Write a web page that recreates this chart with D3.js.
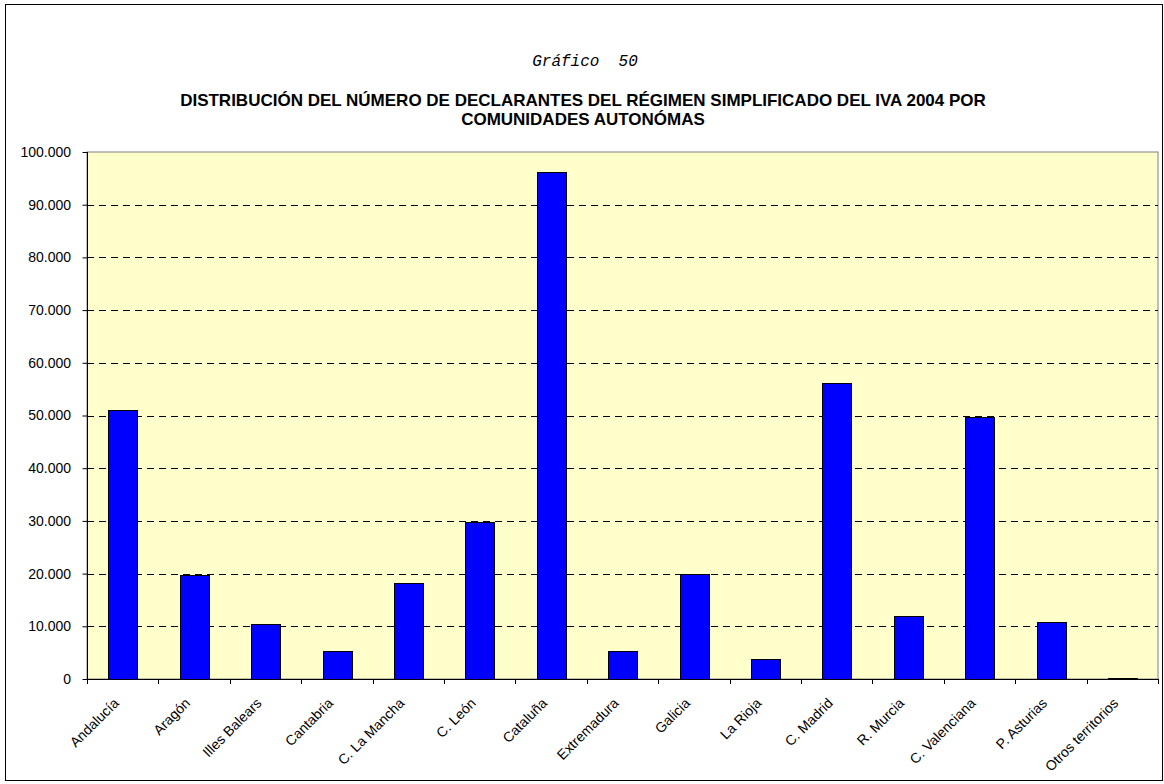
<!DOCTYPE html>
<html><head><meta charset="utf-8">
<script src="https://cdn.jsdelivr.net/npm/d3@7"></script>
<style>body{margin:0;background:#fff}svg{display:block}</style>
</head><body>
<svg id="c" width="1164" height="784"></svg>
<script>
const categories = ["Andalucía","Aragón","Illes Balears","Cantabria","C. La Mancha","C. León","Cataluña","Extremadura","Galicia","La Rioja","C. Madrid","R. Murcia","C. Valenciana","P. Asturias","Otros territorios"];
const values = [51000,19700,10400,5400,18200,29800,96200,5300,19900,3850,56200,11900,49800,10900,150];
const yTicks = [0,10000,20000,30000,40000,50000,60000,70000,80000,90000,100000];
const subtitle = "Gráfico  50";
const titleLines = ["DISTRIBUCIÓN DEL NÚMERO DE DECLARANTES DEL RÉGIMEN SIMPLIFICADO DEL IVA 2004 POR","COMUNIDADES AUTONÓMAS"];

const svg = d3.select("#c");
svg.append("rect").attr("x",5.5).attr("y",4.5).attr("width",1157).attr("height",776).attr("fill","#fff").attr("stroke","#000");

const L=87, R=1158, T=152, B=679;
const x = d3.scaleBand().domain(categories).range([L,R]).paddingInner(0.6).paddingOuter(0.3);
const xb = d3.scaleBand().domain(categories).range([L,R]);
const y = d3.scaleLinear().domain([0,100000]).range([B,T]);
const sans = "'Liberation Sans',Arial,sans-serif";

svg.append("text").attr("x",585).attr("y",66).attr("text-anchor","middle")
  .style("font-family","'Liberation Mono','DejaVu Sans Mono',monospace").style("font-style","italic").style("font-size","16px")
  .attr("xml:space","preserve").text(subtitle);
titleLines.forEach((t,i)=>svg.append("text").attr("x",583).attr("y",106+i*19).attr("text-anchor","middle")
  .style("font-family",sans).style("font-weight","bold").style("font-size","17px").text(t));

svg.append("rect").attr("x",L).attr("y",T).attr("width",R-L).attr("height",B-T).attr("fill","#FFFFCC").attr("stroke","#808080");

svg.append("g").selectAll("line").data(yTicks.filter(d=>d>0&&d<100000)).join("line")
  .attr("x1",L).attr("x2",R).attr("y1",d=>Math.round(y(d))+0.5).attr("y2",d=>Math.round(y(d))+0.5)
  .attr("stroke","#000").attr("stroke-dasharray","7,5");

svg.append("g").selectAll("rect").data(values).join("rect")
  .attr("x",(d,i)=>Math.round(x(categories[i]))+0.5).attr("width",Math.round(x.bandwidth()))
  .attr("y",d=>Math.round(y(d))+0.5).attr("height",d=>Math.max(0,Math.round(B-y(d))))
  .attr("fill","#0000FF").attr("stroke","#000").attr("stroke-width",1);

const yAxis = svg.append("g").attr("transform",`translate(${L+0.5},0)`)
  .call(d3.axisLeft(y).tickValues(yTicks).tickSize(5).tickFormat(d=>d3.format(",")(d).replace(/,/g,".")));
yAxis.selectAll("text").style("font-family",sans).style("font-size","14px").attr("fill","#000").attr("dx","-8.5");
yAxis.selectAll("line").attr("stroke","#000");
yAxis.select(".domain").attr("stroke","#000").attr("d",`M0,${T}V${B}`);

const xg = svg.append("g");
xg.append("line").attr("x1",L).attr("x2",R).attr("y1",B+0.5).attr("y2",B+0.5).attr("stroke","#000");
const bounds = categories.map(c=>xb(c)).concat([R]);
xg.selectAll("line.t").data(bounds).join("line").attr("class","t")
  .attr("x1",d=>Math.round(d)+0.5).attr("x2",d=>Math.round(d)+0.5).attr("y1",B).attr("y2",B+5).attr("stroke","#000");
xg.selectAll("text").data(categories).join("text")
  .attr("transform",d=>`translate(${xb(d)+xb.bandwidth()/2-3},${B+25}) rotate(-45)`)
  .attr("text-anchor","end")
  .style("font-family",sans).style("font-size","14px").text(d=>d);
</script>
</body></html>
